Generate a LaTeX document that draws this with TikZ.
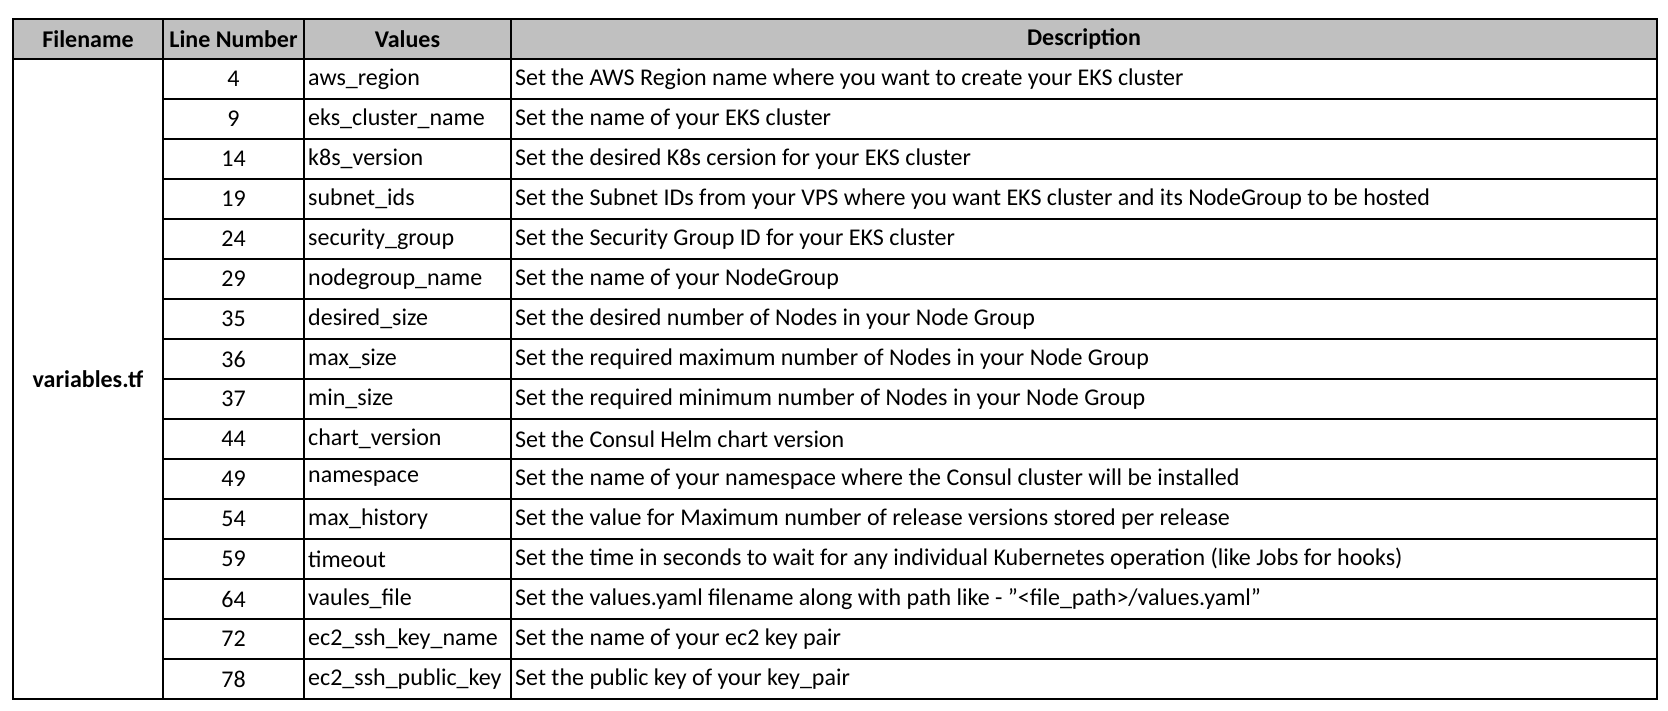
\documentclass[tikz,border=0pt]{standalone}
\usepackage{fontspec}
\setmainfont{Carlito}
\begin{document}
\begin{tikzpicture}[x=1pt,y=-1pt,
  cell/.style={font=\fontsize{24}{28}\selectfont, inner sep=0pt, anchor=center},
  lcell/.style={font=\fontsize{24}{28}\selectfont, inner sep=0pt, anchor=west},
  hcell/.style={font=\fontsize{24}{28}\selectfont\bfseries, inner sep=0pt, anchor=center}]
\useasboundingbox (0,0) rectangle (1668,710);
\fill[fill={rgb,255:red,192;green,192;blue,192}] (13,19) rectangle (1657,59);
\node[hcell] (h1) at (88,39) {Filename};
\node[hcell] (h2) at (233.5,39) {Line Number};
\node[hcell] (h3) at (407.5,39) {Values};
\node[hcell] (h4) at (1084,39) {Description};
\node[hcell] (fn) at (88,379) {variables.tf};
\foreach [count=\i] \n/\v/\d in {
 4/aws\_region/Set the AWS Region name where you want to create your EKS cluster,
 9/eks\_cluster\_name/Set the name of your EKS cluster,
 14/k8s\_version/Set the desired K8s cersion for your EKS cluster,
 19/subnet\_ids/Set the Subnet IDs from your VPS where you want EKS cluster and its NodeGroup to be hosted,
 24/security\_group/Set the Security Group ID for your EKS cluster,
 29/nodegroup\_name/Set the name of your NodeGroup,
 35/desired\_size/Set the desired number of Nodes in your Node Group,
 36/max\_size/Set the required maximum number of Nodes in your Node Group,
 37/min\_size/Set the required minimum number of Nodes in your Node Group,
 44/chart\_version/Set the Consul Helm chart version,
 49/namespace/Set the name of your namespace where the Consul cluster will be installed,
 54/max\_history/Set the value for Maximum number of release versions stored per release,
 59/timeout/Set the time in seconds to wait for any individual Kubernetes operation (like Jobs for hooks),
 64/vaules\_file/{Set the values.yaml filename along with path like - \symbol{34}<file\_path>/values.yaml\symbol{34}},
 72/ec2\_ssh\_key\_name/Set the name of your ec2 key pair,
 78/ec2\_ssh\_public\_key/Set the public key of your key\_pair}{
  \pgfmathsetmacro{\yc}{59+40*\i-20}
  \node[cell] (n\i) at (233.5,\yc) {\n};
  \node[lcell] (v\i) at (308,\yc) {\v};
  \node[lcell] (d\i) at (515,\yc) {\d};
}
\foreach \i in {1,...,15}{
  \draw[line width=2pt] (163,59+40*\i) -- (1657,59+40*\i);
}
\draw[line width=2pt] (13,59) -- (1657,59);
\draw[line width=2pt] (163,19) -- (163,699);
\draw[line width=2pt] (304,19) -- (304,699);
\draw[line width=2pt] (511,19) -- (511,699);
\draw[line width=2.5pt] (13,19) rectangle (1657,699);
\end{tikzpicture}
\end{document}
